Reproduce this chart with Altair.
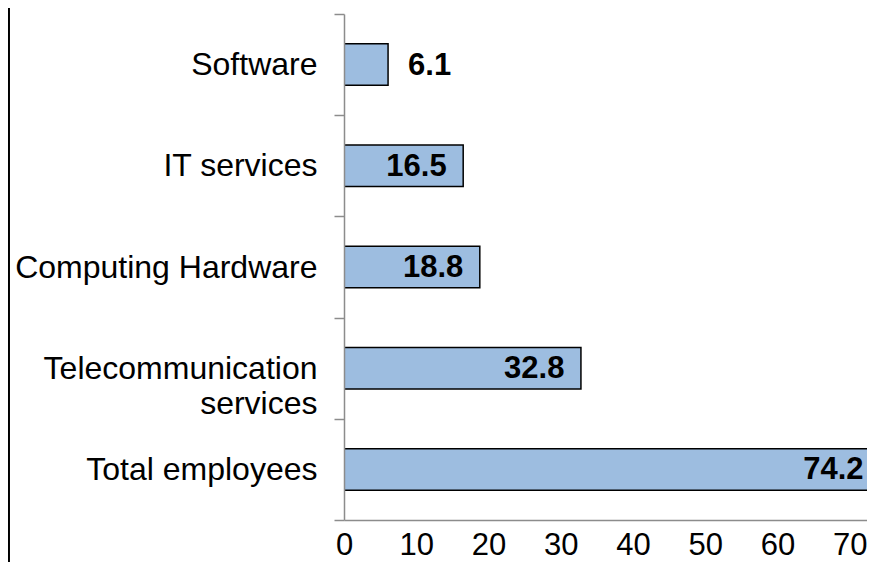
import altair as alt
import pandas as pd

categories = ["Software", "IT services", "Computing Hardware",
              "Telecommunication services", "Total employees"]
values = [6.1, 16.5, 18.8, 32.8, 74.2]
x_ticks = [0, 10, 20, 30, 40, 50, 60, 70]

df = pd.DataFrame({"category": categories, "value": values})

FONT = "Liberation Sans"
GRAY = "#8c8c8c"
nb = "\u00a0"
label_expr = ("datum.value == 'Telecommunication services' ? "
              "['Telecommunication', 'services" + nb * 9 + "'] : datum.value")

x_enc = alt.X(
    "value:Q",
    scale=alt.Scale(domain=[0, 72.4], nice=False, zero=True),
    axis=alt.Axis(values=x_ticks, ticks=False, tickSize=0, grid=False,
                  domainColor=GRAY, domainWidth=1.5, labelFontSize=31,
                  labelFont=FONT, labelColor="black", labelPadding=34,
                  labelBaseline="alphabetic", title=None,
                  labelFlush=False, labelOverlap=False, zindex=1),
)
y_enc = alt.Y(
    "category:N",
    sort=categories,
    scale=alt.Scale(paddingInner=0, paddingOuter=0),
    axis=alt.Axis(tickBand="extent", tickSize=10, tickColor=GRAY, tickWidth=1.5,
                  domainColor=GRAY, domainWidth=1.5, labelFontSize=32,
                  labelFont=FONT, labelColor="black", labelPadding=17,
                  labelLineHeight=35, labelExpr=label_expr, labelLimit=500,
                  title=None, grid=False, zindex=1),
)

base = alt.Chart(df)

bars = base.mark_bar(fill="#9dbde0", stroke="black", strokeWidth=1.5,
                     clip=True, height={"band": 0.41}).encode(x=x_enc, y=y_enc)

text_in = base.transform_filter("datum.value >= 10").mark_text(
    align="right", baseline="middle", dx=-16.5, dy=1, fontWeight="bold",
    fontSize=31, font=FONT, color="black"
).encode(x="value:Q", y=alt.Y("category:N", sort=categories),
         text=alt.Text("value:Q", format=".1f"))

text_out = base.transform_filter("datum.value < 10").mark_text(
    align="left", baseline="middle", dx=20, dy=1, fontWeight="bold",
    fontSize=31, font=FONT, color="black"
).encode(x="value:Q", y=alt.Y("category:N", sort=categories),
         text=alt.Text("value:Q", format=".1f"))

border = base.mark_rule(color="black", strokeWidth=1.5, clip=False).encode(
    x=alt.value(-335.25), y=alt.value(-6), y2=alt.value(548)
)

chart = alt.layer(bars, text_in, text_out, border).properties(
    width=523, height=506,
    padding={"left": 336, "top": 6, "right": 0, "bottom": 42},
    autosize="none",
).configure_view(stroke=None)

chart.save("out.html", embed_options={"renderer": "svg", "actions": False})
